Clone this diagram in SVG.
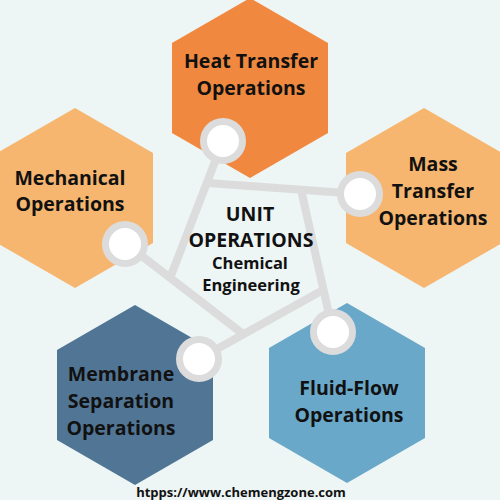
<svg xmlns="http://www.w3.org/2000/svg" xmlns:xlink="http://www.w3.org/1999/xlink" width="500" height="500" viewBox="0 0 500 500">
<defs>
<polygon id="hex" points="0,-90 78,-45 78,45 0,90 -78,45 -78,-45"/>
<style>
text{font-family:"Open Sans","DejaVu Sans",sans-serif;font-weight:bold;fill:#111111;text-anchor:middle}
.lbl{font-size:19.5px}
.sub{font-size:16.5px}
.url{font-size:13px}
.conn line{stroke:#DCDCDC;stroke-width:8;stroke-linecap:round}
.ring{fill:#FFFFFF;stroke:#DCDCDC;stroke-width:7}
</style>
</defs>
<rect width="500" height="500" fill="#EDF5F5"/>
<g id="heat-transfer"><use xlink:href="#hex" x="250" y="88" fill="#F0883F"/></g>
<g id="mechanical"><use xlink:href="#hex" x="75" y="198" fill="#F6B66F"/></g>
<g id="mass-transfer"><use xlink:href="#hex" x="424" y="198" fill="#F6B66F"/></g>
<g id="membrane"><use xlink:href="#hex" x="135" y="395" fill="#517695"/></g>
<g id="fluid-flow"><use xlink:href="#hex" x="347" y="393" fill="#6AA8C9"/></g>
<g id="connectors" class="conn">
<line x1="223" y1="141" x2="172" y2="273"/>
<line x1="208" y1="183" x2="360" y2="194"/>
<line x1="302" y1="194" x2="333" y2="332"/>
<line x1="199" y1="359" x2="323" y2="290"/>
<line x1="125" y1="243" x2="243" y2="334"/>
</g>
<g id="rings">
<circle class="ring" cx="223" cy="141" r="19.5"/>
<circle class="ring" cx="360" cy="194" r="19.5"/>
<circle class="ring" cx="125" cy="244" r="19.5"/>
<circle class="ring" cx="199" cy="359" r="19.5"/>
<circle class="ring" cx="333" cy="332" r="19.5"/>
</g>
<g id="labels">
<text class="lbl" x="251" y="68">Heat Transfer</text>
<text class="lbl" x="251" y="95">Operations</text>
<text class="lbl" x="70" y="185">Mechanical</text>
<text class="lbl" x="70" y="211">Operations</text>
<text class="lbl" x="433" y="171">Mass</text>
<text class="lbl" x="433" y="198">Transfer</text>
<text class="lbl" x="433" y="225">Operations</text>
<text class="lbl" x="121" y="381">Membrane</text>
<text class="lbl" x="121" y="408">Separation</text>
<text class="lbl" x="121" y="435">Operations</text>
<text class="lbl" x="349" y="395">Fluid-Flow</text>
<text class="lbl" x="349" y="422">Operations</text>
<text class="lbl" x="250" y="221">UNIT</text>
<text class="lbl" x="251" y="247">OPERATIONS</text>
<text class="sub" x="250" y="269">Chemical</text>
<text class="sub" x="251" y="291">Engineering</text>
<text class="url" x="241" y="497">htpps://www.chemengzone.com</text>
</g>
</svg>
